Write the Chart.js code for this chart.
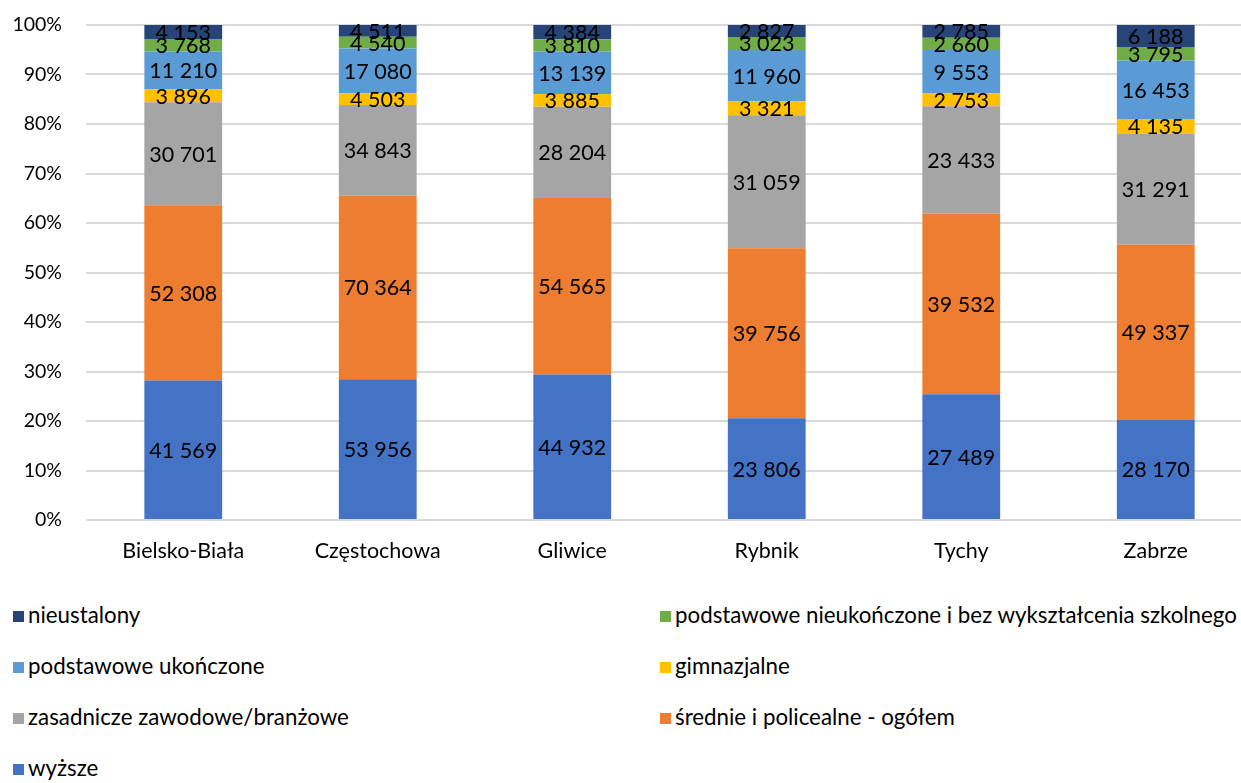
<!DOCTYPE html>
<html>
<head>
<meta charset="utf-8">
<script src="https://cdn.jsdelivr.net/npm/chart.js@4"></script>
<style>
    html, body { margin: 0; padding: 0; background: #fff; overflow: hidden; }
    #wrap { position: relative; width: 1241px; height: 783px; overflow: hidden; }
    #box { position: absolute; left: 0; top: 0; width: 1253px; height: 580px; }
    .leg { position: absolute; font-family: Lato, sans-serif; font-size: 22.3px; color: #000; white-space: nowrap; line-height: 24px; }
    .leg span { display: inline-block; width: 11px; height: 11px; margin-right: 4px; vertical-align: 1px; }
</style>
</head>
<body>
<div id="wrap">
    <div id="box"><canvas id="chart"></canvas></div>
</div>
<script>
const cities = ['Bielsko-Biała', 'Częstochowa', 'Gliwice', 'Rybnik', 'Tychy', 'Zabrze'];

// values per education level, bottom of the stack first
const wyzsze = [41569, 53956, 44932, 23806, 27489, 28170];
const srednie = [52308, 70364, 54565, 39756, 39532, 49337];
const zasadnicze = [30701, 34843, 28204, 31059, 23433, 31291];
const gimnazjalne = [3896, 4503, 3885, 3321, 2753, 4135];
const podstUkonczone = [11210, 17080, 13139, 11960, 9553, 16453];
const podstNieukonczone = [3768, 4540, 3810, 3023, 2660, 3795];
const nieustalony = [4153, 4511, 4384, 2827, 2785, 6188];

const yTicks = [0, 10, 20, 30, 40, 50, 60, 70, 80, 90, 100];

const series = [
    { label: 'wyższe', values: wyzsze, color: '#4472C4' },
    { label: 'średnie i policealne - ogółem', values: srednie, color: '#ED7D31' },
    { label: 'zasadnicze zawodowe/branżowe', values: zasadnicze, color: '#A5A5A5' },
    { label: 'gimnazjalne', values: gimnazjalne, color: '#FFC000' },
    { label: 'podstawowe ukończone', values: podstUkonczone, color: '#5B9BD5' },
    { label: 'podstawowe nieukończone i bez wykształcenia szkolnego', values: podstNieukonczone, color: '#70AD47' },
    { label: 'nieustalony', values: nieustalony, color: '#264478' },
];

const totals = cities.map((c, i) => series.reduce((s, d) => s + d.values[i], 0));

const fmt = (n) => String(n).replace(/\B(?=(\d{3})+(?!\d))/g, ' ');

const valueLabels = {
    id: 'valueLabels',
    afterDatasetsDraw(chart) {
        const ctx = chart.ctx;
        ctx.save();
        ctx.font = '21.5px Lato, sans-serif';
        ctx.fillStyle = '#000';
        ctx.textAlign = 'center';
        ctx.textBaseline = 'middle';
        chart.data.datasets.forEach((ds, di) => {
            const meta = chart.getDatasetMeta(di);
            meta.data.forEach((bar, i) => {
                const y = (bar.y + bar.base) / 2;
                ctx.fillText(fmt(ds.raw[i]), bar.x, y + 1);
            });
        });
        ctx.restore();
    }
};

new Chart(document.getElementById('chart'), {
    type: 'bar',
    data: {
        labels: cities,
        datasets: series.map((s) => ({
            label: s.label,
            raw: s.values,
            data: s.values.map((v, i) => v / totals[i] * 100),
            backgroundColor: s.color,
            borderWidth: 0,
            barPercentage: 0.4,
            categoryPercentage: 1,
        })),
    },
    options: {
        responsive: true,
        maintainAspectRatio: false,
        animation: false,
        layout: { padding: { top: 25, left: 0, right: 0, bottom: 0 } },
        scales: {
            x: {
                stacked: true,
                grid: { display: false },
                border: { display: false },
                ticks: { color: '#000', font: { family: 'Lato', size: 21.5 }, padding: 10 },
                afterFit: (scale) => { scale.height = 60; },
            },
            y: {
                stacked: true,
                min: 0,
                max: 100,
                afterBuildTicks: (scale) => { scale.ticks = yTicks.map((v) => ({ value: v })); },
                grid: { color: '#d9d9d9', lineWidth: 2, drawTicks: false },
                border: { display: false },
                ticks: { color: '#000', font: { family: 'Lato', size: 19.5 }, padding: 24, callback: (v) => v + '%' },
                afterFit: (scale) => {
                    scale.width = 86;
                    scale.paddingTop = 0;
                    scale.paddingBottom = 0;
                },
            },
        },
        plugins: {
            legend: { display: false },
            tooltip: { enabled: false },
        },
    },
    plugins: [valueLabels],
});

// legend in two columns, top of stack first
const legendOrder = series.slice().reverse();
const wrap = document.getElementById('wrap');
legendOrder.forEach((s, k) => {
    const el = document.createElement('div');
    el.className = 'leg';
    el.style.left = (k % 2 === 0 ? 13 : 660) + 'px';
    el.style.top = (603 + Math.floor(k / 2) * 51) + 'px';
    el.innerHTML = '<span style="background:' + s.color + '"></span>' + s.label;
    wrap.appendChild(el);
});
</script>
</body>
</html>
